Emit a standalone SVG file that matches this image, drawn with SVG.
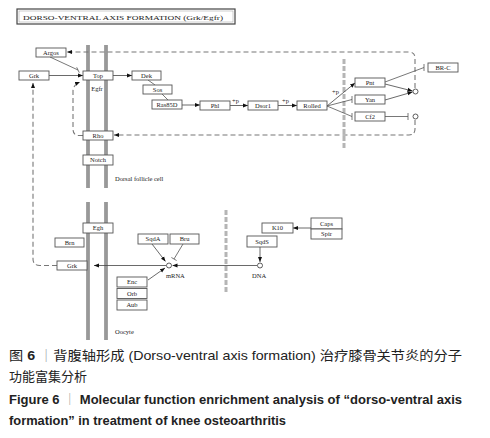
<svg xmlns="http://www.w3.org/2000/svg" width="490" height="438" viewBox="0 0 490 438">
<defs>
<marker id="ah" viewBox="0 0 10 10" refX="10" refY="5" markerWidth="5" markerHeight="5" markerUnits="userSpaceOnUse" orient="auto"><path d="M0,1 L10,5 L0,9 z" fill="#111"/></marker>
</defs>
<style>
.box{fill:#fff;stroke:#555;stroke-width:0.9}
.lbl{font-family:"Liberation Serif",serif;font-size:6.5px;text-anchor:middle;fill:#222}
.txt{font-family:"Liberation Serif",serif;font-size:6.5px;fill:#222}
.ln{fill:none;stroke:#555;stroke-width:0.8}
.ar{fill:none;stroke:#444;stroke-width:0.8;marker-end:url(#ah)}
.dash{fill:none;stroke:#777;stroke-width:1.1;stroke-dasharray:5 3}
.sep{fill:none;stroke:#b5b5b5;stroke-width:3;stroke-dasharray:5 2}
.memo{stroke:#666;stroke-width:3.2}
.memi{stroke:#bbb;stroke-width:1.2}
.cir{fill:#fff;stroke:#333;stroke-width:0.8}
.cap{font-family:"Liberation Sans","Noto Sans CJK SC",sans-serif;fill:#222}
</style>
<rect width="490" height="438" fill="#fff"/>
<g id="title">
<rect x="17" y="9" width="218" height="15" fill="#fff" stroke="#444" stroke-width="1.2"/>
<rect x="19" y="11" width="214" height="11" fill="none" stroke="#888" stroke-width="0.4"/>
<text x="23" y="19.8" class="txt" font-size="7.5" textLength="200" lengthAdjust="spacingAndGlyphs">DORSO-VENTRAL AXIS FORMATION (Grk/Egfr)</text>
</g>
<g id="membranes">
<line x1="88" y1="45" x2="88" y2="188" class="memo"/><line x1="88" y1="45" x2="88" y2="188" class="memi"/>
<line x1="106" y1="45" x2="106" y2="188" class="memo"/><line x1="106" y1="45" x2="106" y2="188" class="memi"/>
<line x1="88" y1="202" x2="88" y2="340" class="memo"/><line x1="88" y1="202" x2="88" y2="340" class="memi"/>
<line x1="106" y1="202" x2="106" y2="340" class="memo"/><line x1="106" y1="202" x2="106" y2="340" class="memi"/>
</g>
<g id="connectors">
<path class="sep" d="M344,59 L344,150"/>
<path class="sep" d="M226,210 L226,293"/>
<path class="dash" d="M415,88 L415,58 Q415,52 409,52 L67,52" marker-end="url(#ah)"/>
<path class="dash" d="M415,120 L415,129 Q415,135 409,135 L114,135" marker-end="url(#ah)"/>
<path class="dash" d="M83,135.5 L79,135.5 Q73,135.5 73,129 L73,91 Q73,85 80,82" marker-end="url(#ah)"/>
<path class="dash" d="M57,265.5 L40,265.5 Q33,265.5 33,259 L33,83" marker-end="url(#ah)"/>
<path class="ar" d="M49,75.5 L83,75.5"/>
<path class="ln" d="M50,57 L78,70 M76.7,67.3 L79.3,72.7"/>
<path class="ar" d="M113,75.5 L132,75.5"/>
<path class="ln" d="M148,80 L155,85 M162,94 L168,100"/>
<path class="ar" d="M182,105 L200,105"/>
<path class="ar" d="M230,105.5 L248,105.5"/>
<path class="ar" d="M278,105.5 L297,105.5"/>
<path class="ar" d="M327,106 L355,83"/>
<path class="ln" d="M327,106 L352,99.5 M352,96 L352,103"/>
<path class="ln" d="M327,106 L352,116.5 M352,113 L352,120"/>
<path class="ar" d="M385,84 L412.5,91"/>
<path class="ar" d="M385,100 L412.5,92"/>
<path class="ln" d="M385,82 L424,67.5 M424,64 L424,71"/>
<path class="ln" d="M385,116.5 L408,116.5 M408,113 L408,120"/>
<path class="ar" d="M152,244 L165.5,261.5"/>
<path class="ln" d="M183,244 L174,259 M171.4,257.5 L176.6,260.5"/>
<path class="ar" d="M148,280 L165,268"/>
<path class="ar" d="M166,265.5 L94,265.5"/>
<path class="ar" d="M257,265.5 L172.5,265.5"/>
<path class="ar" d="M260,247 L260,262"/>
<path class="ar" d="M311,228 L293,228"/>
<text x="232" y="103" class="txt" font-size="5.5">+p</text>
<text x="282" y="103" class="txt" font-size="5.5">+p</text>
<text x="332" y="94" class="txt" font-size="5.5">+p</text>
</g>
<g id="argos"><rect class="box" x="36" y="48" width="30" height="9"/><text class="lbl" x="51" y="54.8">Argos</text></g>
<g id="grk1"><rect class="box" x="19" y="71" width="30" height="9"/><text class="lbl" x="34" y="77.8">Grk</text></g>
<g id="top"><rect class="box" x="83" y="71" width="30" height="9"/><text class="lbl" x="98" y="77.8">Top</text><text class="lbl" x="97" y="91">Egfr</text></g>
<g id="dek"><rect class="box" x="132" y="71" width="29" height="9"/><text class="lbl" x="146.5" y="77.8">Dek</text></g>
<g id="sos"><rect class="box" x="143" y="85" width="29" height="9"/><text class="lbl" x="157.5" y="91.8">Sos</text></g>
<g id="ras85d"><rect class="box" x="152" y="100" width="30" height="9"/><text class="lbl" x="167" y="106.8">Ras85D</text></g>
<g id="phl"><rect class="box" x="200" y="101" width="30" height="9"/><text class="lbl" x="215" y="107.8">Phl</text></g>
<g id="dsor1"><rect class="box" x="248" y="101" width="30" height="9"/><text class="lbl" x="263" y="107.8">Dsor1</text></g>
<g id="rolled"><rect class="box" x="297" y="101" width="30" height="9"/><text class="lbl" x="312" y="107.8">Rolled</text></g>
<g id="pnt"><rect class="box" x="355" y="78" width="30" height="9"/><text class="lbl" x="370" y="84.8">Pnt</text></g>
<g id="yan"><rect class="box" x="355" y="95" width="30" height="9"/><text class="lbl" x="370" y="101.8">Yan</text></g>
<g id="cf2"><rect class="box" x="355" y="112" width="30" height="9"/><text class="lbl" x="370" y="118.8">Cf2</text></g>
<g id="brc"><rect class="box" x="428" y="63" width="30" height="9"/><text class="lbl" x="443" y="69.8">BR-C</text></g>
<g id="circle1"><circle class="cir" cx="415.5" cy="91.5" r="2.5"/></g>
<g id="circle2"><circle class="cir" cx="415.5" cy="116.5" r="2.5"/></g>
<g id="rho"><rect class="box" x="83" y="131" width="30" height="9"/><text class="lbl" x="98" y="137.8">Rho</text></g>
<g id="notch"><rect class="box" x="83" y="155" width="30" height="10"/><text class="lbl" x="98" y="162.2">Notch</text></g>
<text x="115" y="181" class="txt">Dorsal follicle cell</text>
<g id="egh"><rect class="box" x="83" y="223" width="30" height="10"/><text class="lbl" x="98" y="230.2">Egh</text></g>
<g id="brn"><rect class="box" x="55" y="238" width="29" height="9"/><text class="lbl" x="69.5" y="244.8">Brn</text></g>
<g id="grk2"><rect class="box" x="57" y="261" width="30" height="9"/><text class="lbl" x="72" y="267.8">Grk</text></g>
<g id="sqda"><rect class="box" x="138" y="234" width="30" height="10"/><text class="lbl" x="153" y="241.2">SqdA</text></g>
<g id="bru"><rect class="box" x="170" y="234" width="29" height="10"/><text class="lbl" x="184.5" y="241.2">Bru</text></g>
<g id="mrna"><circle class="cir" cx="169" cy="265.5" r="2.5"/><text class="txt" x="166" y="278">mRNA</text></g>
<g id="enc"><rect class="box" x="117" y="277" width="30" height="10"/><text class="lbl" x="132" y="284.2">Enc</text></g>
<g id="orb"><rect class="box" x="117" y="288.5" width="30" height="10"/><text class="lbl" x="132" y="295.7">Orb</text></g>
<g id="aub"><rect class="box" x="117" y="300" width="30" height="10"/><text class="lbl" x="132" y="307.2">Aub</text></g>
<g id="k10"><rect class="box" x="262" y="223" width="31" height="10"/><text class="lbl" x="277.5" y="230.2">K10</text></g>
<g id="caps"><rect class="box" x="311" y="218" width="31" height="11"/><text class="lbl" x="326.5" y="225.7">Caps</text></g>
<g id="spir"><rect class="box" x="311" y="229" width="31" height="10"/><text class="lbl" x="326.5" y="236.2">Spir</text></g>
<g id="sqds"><rect class="box" x="247" y="236" width="30" height="11"/><text class="lbl" x="262" y="243.7">SqdS</text></g>
<g id="dna"><circle class="cir" cx="260" cy="265.5" r="2.5"/><text class="txt" x="252" y="278">DNA</text></g>
<text x="115" y="334" class="txt" font-size="5">Oocyte</text>
<g id="caption">
<text class="cap" x="9" y="360" font-size="13" textLength="453" lengthAdjust="spacingAndGlyphs">图 <tspan font-weight="bold">6</tspan> <tspan fill="#999">｜</tspan>背腹轴形成 (Dorso-ventral axis formation) 治疗膝骨关节炎的分子</text>
<text class="cap" x="9" y="381" font-size="13">功能富集分析</text>
<text class="cap" x="9" y="404" font-size="12" font-weight="bold" textLength="453" lengthAdjust="spacingAndGlyphs">Figure 6 <tspan fill="#999" font-weight="normal">｜</tspan> Molecular function enrichment analysis of “dorso-ventral axis</text>
<text class="cap" x="9" y="424.5" font-size="12" font-weight="bold" textLength="277" lengthAdjust="spacingAndGlyphs">formation” in treatment of knee osteoarthritis</text>
</g>
</svg>
